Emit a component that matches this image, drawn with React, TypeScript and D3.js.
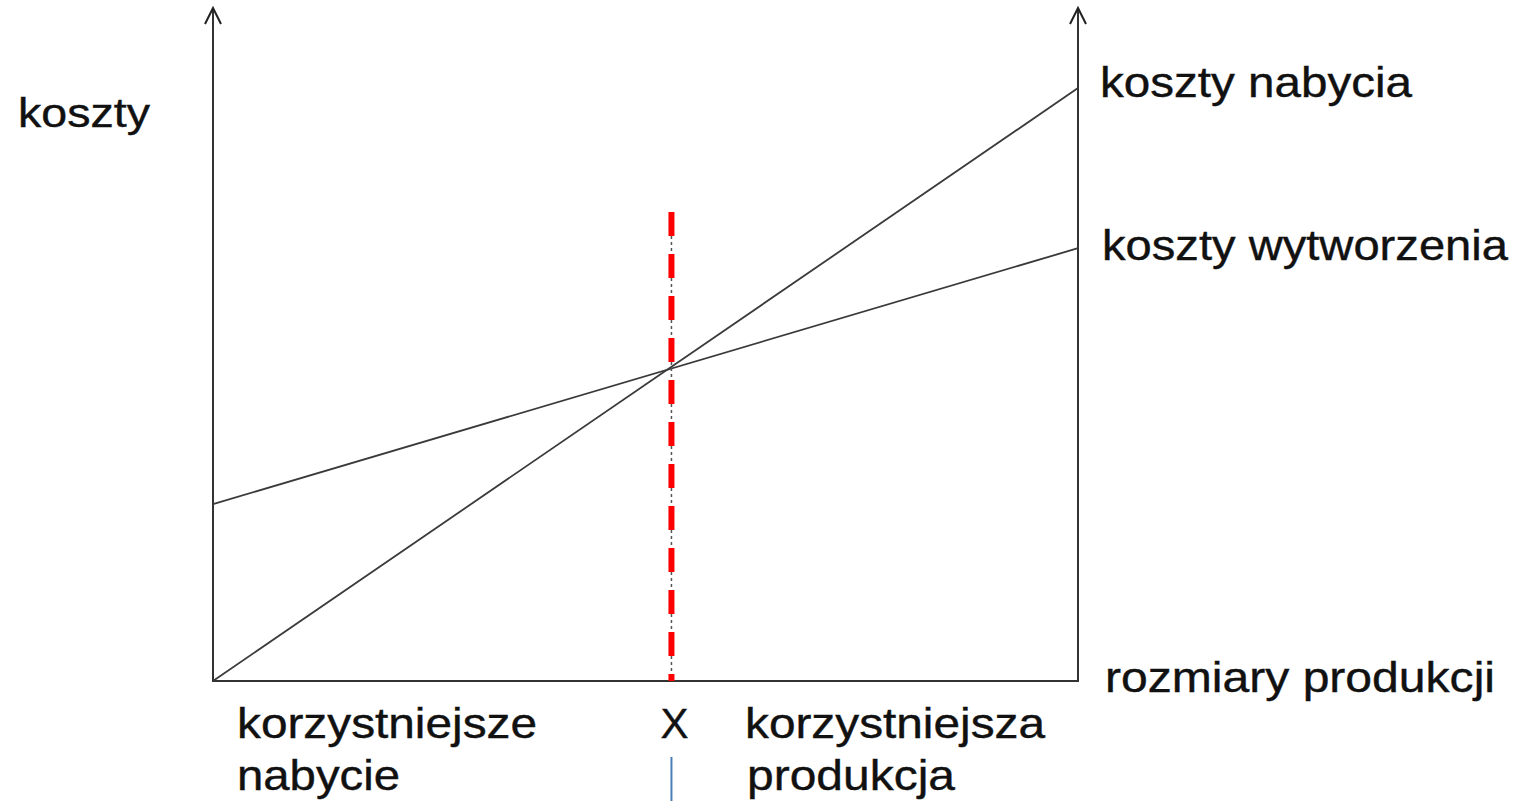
import React from "react";
import * as d3 from "d3";

// production volume (x) and costs (y), in arbitrary units
const volumes = [0, 100];
const kosztyNabycia = [0, 88.5];
const kosztyWytworzenia = [26.4, 64.6];
const breakEven = 53;
const breakEvenTop = 70;

const seriesLabels = ["koszty nabycia", "koszty wytworzenia"];
const yLabel = "koszty";
const xLabel = "rozmiary produkcji";
const leftNote = ["korzystniejsze", "nabycie"];
const rightNote = ["korzystniejsza", "produkcja"];
const markLabel = "X";

const W = 1523;
const H = 801;
const FONT = "'Liberation Sans', Arial, sans-serif";

const App = () => {
  const x = d3.scaleLinear().domain([0, 100]).range([213, 1078]);
  const y = d3.scaleLinear().domain([0, 100]).range([681, 11]);

  const line = d3
    .line<[number, number]>()
    .x(d => x(d[0]))
    .y(d => y(d[1]));

  const nabycie = volumes.map((v, i) => [v, kosztyNabycia[i]] as [number, number]);
  const wytworzenie = volumes.map((v, i) => [v, kosztyWytworzenia[i]] as [number, number]);

  const x0 = x(0);
  const x1 = x(100);
  const yb = y(0);
  const yt = y(100) - 3;
  const bx = x(breakEven);

  const arrow = (ax: number) =>
    `M${ax - 8},${yt + 16} L${ax},${yt} L${ax + 8},${yt + 16}`;

  const txt = (s: string, tx: number, ty: number, len: number, size = 43) => (
    <text
      x={tx}
      y={ty}
      fontSize={size}
      fontFamily={FONT}
      fill="#111"
      stroke="#111"
      strokeWidth={0.4}
      textLength={len}
      lengthAdjust="spacingAndGlyphs"
    >
      {s}
    </text>
  );

  return (
    <svg
      width={W}
      height={H}
      style={{ position: "absolute", left: 0, top: 0, background: "#fff" }}
    >
      {/* axes */}
      <path
        d={`M${x0},${yt} L${x0},${yb} L${x1},${yb} L${x1},${yt}`}
        fill="none"
        stroke="#333"
        strokeWidth={2}
      />
      <path d={arrow(x0)} fill="none" stroke="#222" strokeWidth={2} />
      <path d={arrow(x1)} fill="none" stroke="#222" strokeWidth={2} />

      {/* cost lines */}
      <path d={line(nabycie) || ""} fill="none" stroke="#3a3a3a" strokeWidth={1.8} />
      <path d={line(wytworzenie) || ""} fill="none" stroke="#3a3a3a" strokeWidth={1.8} />

      {/* break-even marker */}
      <line
        x1={bx}
        x2={bx}
        y1={y(breakEvenTop)}
        y2={yb}
        stroke="#555"
        strokeWidth={1.5}
        strokeDasharray="3,3"
      />
      <line
        x1={bx}
        x2={bx}
        y1={y(breakEvenTop)}
        y2={yb}
        stroke="#ff0000"
        strokeWidth={6}
        strokeDasharray="24,18"
      />
      <line x1={bx} x2={bx} y1={757} y2={H} stroke="#4a7ebb" strokeWidth={2} />

      {/* labels */}
      {txt(yLabel, 18, 127, 132, 41)}
      {txt(seriesLabels[0], 1100, 97, 312)}
      {txt(seriesLabels[1], 1102, 260, 406)}
      {txt(xLabel, 1105, 692, 390)}
      {txt(leftNote[0], 237, 738, 300)}
      {txt(leftNote[1], 237, 790, 163)}
      {txt(markLabel, bx - 11, 738, 28)}
      {txt(rightNote[0], 745, 738, 300)}
      {txt(rightNote[1], 747, 790, 208)}
    </svg>
  );
};

export default App;
